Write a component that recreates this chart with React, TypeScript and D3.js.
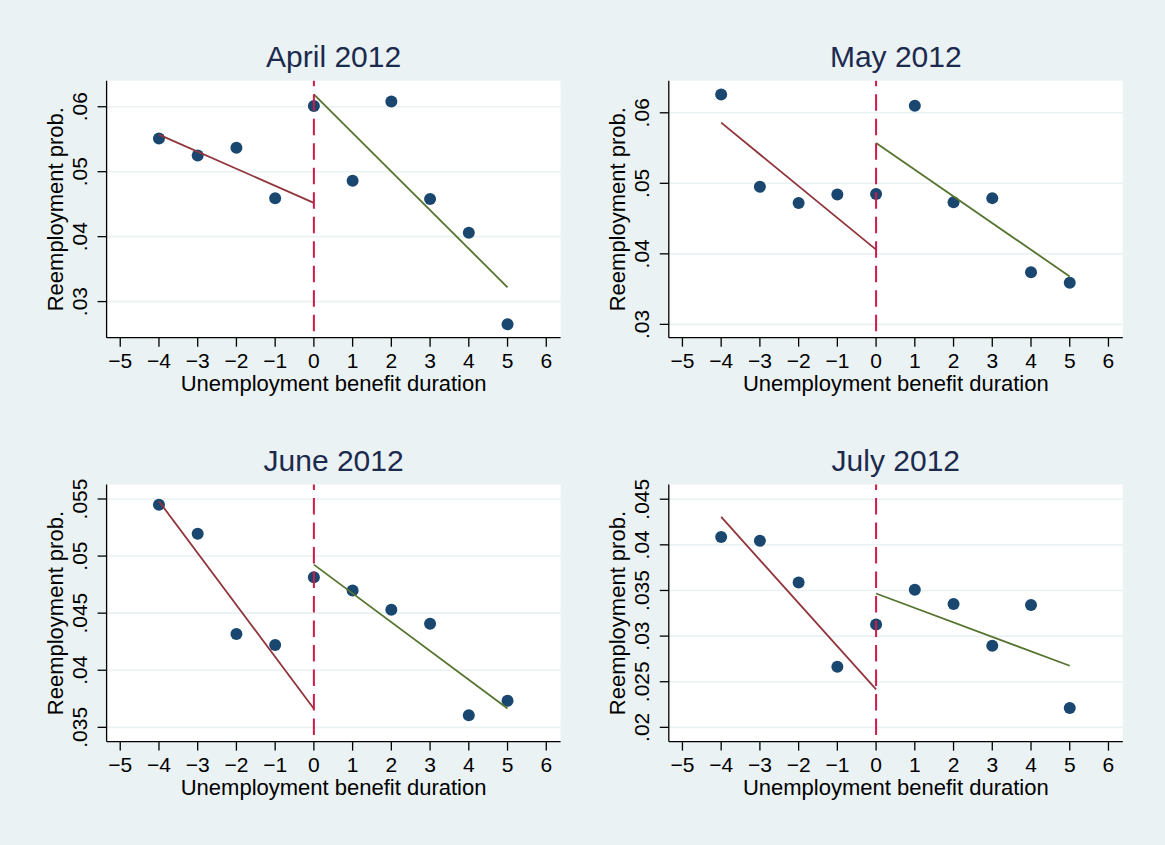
import React from "react";
import * as d3 from "d3";

// ---------- data ----------
const months = ["April 2012", "May 2012", "June 2012", "July 2012"];
const durations = [-4, -3, -2, -1, 0, 1, 2, 3, 4, 5];
const xTicks = [-5, -4, -3, -2, -1, 0, 1, 2, 3, 4, 5, 6];

const aprilProb = [0.0551, 0.0525, 0.0537, 0.0459, 0.0601, 0.0486, 0.0608, 0.0458, 0.0406, 0.0265];
const mayProb = [0.0626, 0.0495, 0.0472, 0.0484, 0.0485, 0.061, 0.0473, 0.0479, 0.0374, 0.0359];
const juneProb = [0.0545, 0.05195, 0.04317, 0.04222, 0.04814, 0.04698, 0.04529, 0.04407, 0.03605, 0.03733];
const julyProb = [0.04087, 0.04044, 0.03587, 0.02664, 0.03127, 0.03508, 0.03352, 0.02894, 0.03341, 0.02212];

// linear fit end points (left: x=-4..0, right: x=0..5)
const fitLeftX = [-4, 0];
const fitRightX = [0, 5];
const aprilFitLeft = [0.0557, 0.0452];
const aprilFitRight = [0.0619, 0.0322];
const mayFitLeft = [0.0586, 0.0406];
const mayFitRight = [0.0557, 0.0368];
const juneFitLeft = [0.0548, 0.03663];
const juneFitRight = [0.04925, 0.03665];
const julyFitLeft = [0.04307, 0.02416];
const julyFitRight = [0.03467, 0.02675];

const aprilTicks = [0.03, 0.04, 0.05, 0.06];
const mayTicks = [0.03, 0.04, 0.05, 0.06];
const juneTicks = [0.035, 0.04, 0.045, 0.05, 0.055];
const julyTicks = [0.02, 0.025, 0.03, 0.035, 0.04, 0.045];

const aprilRange = [0.02444, 0.06401];
const mayRange = [0.02811, 0.06455];
const juneRange = [0.03375, 0.05626];
const julyRange = [0.01844, 0.0466];

const xRange = [-5.352, 6.37];

const xTitle = "Unemployment benefit duration";
const yTitle = "Reemployment prob.";

// ---------- styling ----------
const W = 1165;
const H = 845;
const BG = "#eaf2f3";
const DOT = "#1a476f";
const RED = "#90353b";
const GREEN = "#55752f";
const VLINE = "#cf1a4a";
const TITLE = "#1c2a4e";
const FONT = "'Liberation Sans', Arial, Helvetica, sans-serif";

const PW = 454;
const PH = 257;

const panels = [
  { title: months[0], y: aprilProb, fl: aprilFitLeft, fr: aprilFitRight, ticks: aprilTicks, range: aprilRange, left: 106.6, top: 80.7 },
  { title: months[1], y: mayProb, fl: mayFitLeft, fr: mayFitRight, ticks: mayTicks, range: mayRange, left: 668.8, top: 80.7 },
  { title: months[2], y: juneProb, fl: juneFitLeft, fr: juneFitRight, ticks: juneTicks, range: juneRange, left: 106.6, top: 484.6 },
  { title: months[3], y: julyProb, fl: julyFitLeft, fr: julyFitRight, ticks: julyTicks, range: julyRange, left: 668.8, top: 484.6 },
];

const yFmt = (v: number) => d3.format(".3~f")(v).replace(/^0\./, ".");
const xFmt = (v: number) => (v < 0 ? "\u2212" + Math.abs(v) : String(v));

function Panel(p: (typeof panels)[number]) {
  const x = d3.scaleLinear().domain(xRange).range([0, PW]);
  const y = d3.scaleLinear().domain(p.range).range([PH, 0]);
  const line = d3
    .line<[number, number]>()
    .x((d) => x(d[0]))
    .y((d) => y(d[1]));
  const left: [number, number][] = fitLeftX.map((v, i) => [v, p.fl[i]]);
  const right: [number, number][] = fitRightX.map((v, i) => [v, p.fr[i]]);
  return (
    <g transform={`translate(${p.left},${p.top})`}>
      <rect x={0} y={0} width={PW} height={PH} fill="#ffffff" />
      {p.ticks.map((t) => (
        <line key={"g" + t} x1={0} x2={PW} y1={y(t)} y2={y(t)} stroke={BG} strokeWidth={1.6} />
      ))}
      {/* axes */}
      <line x1={0} x2={0} y1={0} y2={PH} stroke="#000" strokeWidth={1.3} />
      <line x1={0} x2={PW} y1={PH} y2={PH} stroke="#000" strokeWidth={1.3} />
      {p.ticks.map((t) => (
        <g key={"yt" + t}>
          <line x1={-9} x2={0} y1={y(t)} y2={y(t)} stroke="#000" strokeWidth={1.3} />
          <text
            transform={`translate(${-19.5},${y(t)}) rotate(-90)`}
            textAnchor="middle"
            fontSize={21}
            fontFamily={FONT}
            fill="#000"
          >
            {yFmt(t)}
          </text>
        </g>
      ))}
      {xTicks.map((t) => (
        <g key={"xt" + t}>
          <line x1={x(t)} x2={x(t)} y1={PH} y2={PH + 9} stroke="#000" strokeWidth={1.3} />
          <text x={x(t)} y={PH + 30} textAnchor="middle" fontSize={21} fontFamily={FONT} fill="#000">
            {xFmt(t)}
          </text>
        </g>
      ))}
      <text x={PW / 2} y={PH + 53.5} textAnchor="middle" fontSize={22} fontFamily={FONT} fill="#000">
        {xTitle}
      </text>
      <text
        transform={`translate(${-43.5},${PH / 2}) rotate(-90)`}
        textAnchor="middle"
        fontSize={22}
        fontFamily={FONT}
        fill="#000"
      >
        {yTitle}
      </text>
      <text x={PW / 2} y={-13.3} textAnchor="middle" fontSize={30} fontFamily={FONT} fill={TITLE}>
        {p.title}
      </text>
      {/* points */}
      {durations.map((d, i) => (
        <circle key={"c" + d} cx={x(d)} cy={y(p.y[i])} r={6} fill={DOT} />
      ))}
      {/* fitted lines */}
      <path d={line(left) || ""} fill="none" stroke={RED} strokeWidth={1.8} />
      <path d={line(right) || ""} fill="none" stroke={GREEN} strokeWidth={1.8} />
      {/* cutoff */}
      <line
        x1={x(0)}
        x2={x(0)}
        y1={0}
        y2={PH}
        stroke={VLINE}
        strokeWidth={2}
        strokeDasharray="16.5 8"
        strokeDashoffset={11}
      />
    </g>
  );
}

export default function App() {
  return (
    <svg
      width={W}
      height={H}
      viewBox={`0 0 ${W} ${H}`}
      style={{ position: "absolute", left: 0, top: 0, display: "block" }}
    >
      <rect x={0} y={0} width={W} height={H} fill={BG} />
      {panels.map((p) => (
        <Panel key={p.title} {...p} />
      ))}
    </svg>
  );
}
